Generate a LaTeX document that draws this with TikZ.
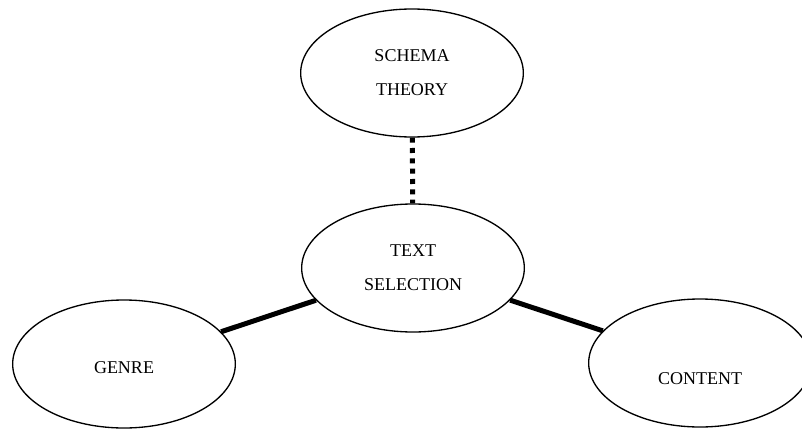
\documentclass[tikz,border=0pt]{standalone}
\usepackage{fontspec}
\setmainfont{Liberation Serif}
\usetikzlibrary{shapes.geometric}

\tikzset{bubble/.style={draw, ellipse, line width=1pt, minimum width=167pt, minimum height=96pt, inner sep=0pt, align=center}}
\tikzset{link/.style={line width=3.75pt}}

\begin{document}
\begin{tikzpicture} [x=0.75pt, y=-0.75pt, font=\fontsize{13.5}{25.5}\selectfont]
\useasboundingbox (0,0) rectangle (802,428);

\node[bubble] (schema) at (412,73) {SCHEMA\\THEORY};
\node[bubble] (textsel) at (413,268) {TEXT\\SELECTION};
\node[bubble, label={[yshift=-3pt]center:GENRE}] (genre) at (124,364) {};
\node[bubble, label={[yshift=-12pt]center:CONTENT}] (content) at (700,363) {};

\draw[link] (genre) -- (textsel);
\draw[link] (textsel) -- (content);
\draw[link, dash pattern=on 3.75pt off 4pt] (schema) -- (textsel);

\end{tikzpicture}
\end{document}
